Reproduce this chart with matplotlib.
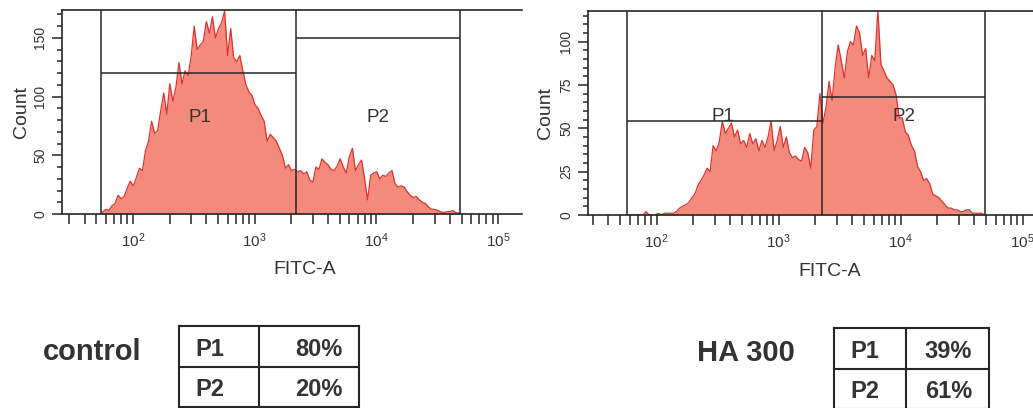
import numpy as np
import matplotlib
matplotlib.use("Agg")
import matplotlib.pyplot as plt
from matplotlib.ticker import LogLocator, LogFormatterMathtext, MultipleLocator, NullFormatter

plt.rcParams['font.family'] = ['Liberation Sans', 'DejaVu Sans']
plt.rcParams['mathtext.fontset'] = 'custom'
plt.rcParams['mathtext.rm'] = 'Liberation Sans'
plt.rcParams['mathtext.it'] = 'Liberation Sans'

# ---------------- data ----------------
BIN_WIDTH_LOG = 0.025
control_start_log = 1.74
ha300_start_log = 1.75

control_counts = [
    2, 4, 3, 7, 9, 16, 13, 15, 22, 28, 24, 31, 39, 37, 54, 62, 79, 69, 71, 88,
    103, 85, 111, 96, 108, 129, 111, 122, 118, 134, 160, 140, 144, 147, 164, 154, 168, 150, 158, 163,
    173, 135, 158, 133, 130, 135, 122, 110, 104, 101, 93, 90, 84, 79, 62, 68, 65, 62, 56, 50,
    39, 42, 37, 38, 36, 37, 34, 36, 29, 27, 40, 38, 47, 44, 42, 38, 37, 41, 47, 40,
    35, 49, 56, 37, 42, 46, 30, 12, 33, 35, 36, 30, 33, 32, 35, 37, 26, 23, 24, 23,
    19, 16, 14, 15, 12, 10, 9, 6, 4, 4, 3, 2, 1, 2, 2, 3, 1, 1]

ha300_counts = [
    0, 0, 0, 0, 0, 0, 2, 0, 0, 0, 1, 0, 1, 1, 1, 1, 2, 4, 5, 6,
    7, 10, 12, 17, 20, 23, 27, 25, 40, 37, 42, 54, 47, 50, 53, 45, 49, 41, 43, 39,
    47, 41, 44, 37, 43, 39, 45, 54, 37, 43, 51, 39, 45, 36, 33, 34, 32, 31, 39, 36,
    27, 49, 51, 70, 53, 62, 77, 66, 85, 98, 89, 79, 94, 100, 98, 109, 105, 92, 96, 79,
    92, 89, 118, 87, 83, 79, 77, 75, 69, 56, 56, 48, 46, 40, 37, 28, 25, 20, 21, 18,
    12, 11, 10, 8, 6, 4, 4, 3, 3, 2, 2, 3, 3, 1, 1, 1, 1, 0]

# gates: name -> (low, high, level)
control_gates = {"P1": (54.6, 2184, 120), "P2": (2184, 48600, 150)}
ha300_gates = {"P1": (56.8, 2250, 54), "P2": (2250, 49300, 68)}

sample_names = ["control", "HA 300"]
table_rows = ["P1", "P2"]
control_pct = ["80%", "20%"]
ha300_pct = ["39%", "61%"]

x_label = "FITC-A"
y_label = "Count"

# ---------------- style ----------------
W, H = 1033, 408
fig = plt.figure(figsize=(W / 100, H / 100), dpi=100)
FILL = "#f38a7c"
EDGE = "#e0322e"
INK = "#262626"
TXT = "#333333"


def px_axes(x0, y_top, x1, y_bot):
    return fig.add_axes([x0 / W, 1 - y_bot / H, (x1 - x0) / W, (y_bot - y_top) / H])


def draw_hist(ax, counts, start_log, gates, xlim, ylim, ymajor, yminor, labels_pos):
    n = len(counts)
    centers = 10 ** (start_log + BIN_WIDTH_LOG * (np.arange(n) + 0.5))
    lo_edge = 10 ** start_log
    hi_edge = 10 ** (start_log + BIN_WIDTH_LOG * n)
    xs = np.concatenate([[lo_edge], centers, [hi_edge]])
    ys = np.concatenate([[0], counts, [0]])
    ax.fill_between(xs, ys, 0, color=FILL, lw=0, zorder=1)
    ax.plot(xs, ys, color=EDGE, lw=0.9, zorder=2)
    ax.set_xscale("log")
    ax.set_xlim(*xlim)
    ax.set_ylim(*ylim)
    bounds = sorted({g[0] for g in gates.values()} | {g[1] for g in gates.values()})
    for b in bounds:
        ax.axvline(b, color=INK, lw=1.1, zorder=3)
    for name, (lo, hi, lvl) in gates.items():
        ax.hlines(lvl, lo, hi, color=INK, lw=1.1, zorder=3)
    for name, (xp, yp) in labels_pos.items():
        ax.text(xp, yp, name, ha="center", va="center", fontsize=13.5, color=TXT, zorder=4)
    ax.xaxis.set_major_locator(LogLocator(base=10, numticks=10))
    ax.xaxis.set_major_formatter(LogFormatterMathtext())
    ax.xaxis.set_minor_locator(LogLocator(base=10, subs=np.arange(2, 10), numticks=20))
    ax.xaxis.set_minor_formatter(NullFormatter())
    ax.yaxis.set_major_locator(MultipleLocator(ymajor))
    ax.yaxis.set_minor_locator(MultipleLocator(yminor))
    ax.tick_params(axis="x", which="both", direction="out", length=7, width=1.1,
                   color=INK, labelsize=11, labelcolor=TXT, pad=5.5)
    ax.tick_params(axis="y", which="major", direction="out", length=7.5, width=1.1,
                   color=INK, labelsize=10, labelcolor=TXT, labelrotation=90, pad=3)
    ax.tick_params(axis="y", which="minor", direction="out", length=3.5, width=1.1, color=INK)
    for lab in ax.get_yticklabels():
        lab.set_va("center")
    for s in ["left", "bottom", "top"]:
        ax.spines[s].set_color(INK)
        ax.spines[s].set_linewidth(1.2)
    ax.spines["right"].set_visible(False)
    ax.set_xlabel(x_label, fontsize=14, color=TXT)
    ax.set_ylabel(y_label, fontsize=14, color=TXT)


ax1 = px_axes(62, 10, 522, 214)
draw_hist(ax1, control_counts, control_start_log, control_gates,
          (10 ** 1.4166, 10 ** 5.196), (0, 173.8), 50, 10,
          {"P1": (355, 82.6), "P2": (10300, 82.6)})
ax1.xaxis.set_label_coords((305 - 62) / 460, -(261 - 214) / 204)
ax1.yaxis.set_label_coords((30 - 62) / 460, 0.5)

ax2 = px_axes(588, 11, 1033, 215)
draw_hist(ax2, ha300_counts, ha300_start_log, ha300_gates,
          (10 ** 1.437, 10 ** 5.084), (0, 117.6), 25, 5,
          {"P1": (349, 56.5), "P2": (10640, 56.5)})
ax2.xaxis.set_label_coords((830 - 588) / 445, -(263 - 215) / 204)
ax2.yaxis.set_label_coords((554 - 588) / 445, 0.5)

# ---------------- tables (pixel overlay) ----------------
ov = fig.add_axes([0, 0, 1, 1], zorder=10)
ov.set_xlim(0, W)
ov.set_ylim(H, 0)
ov.axis("off")
ov.patch.set_alpha(0)


def draw_table(name, name_xy, x0, xmid, x1, y0, ymid, y1, pcts, row_left, pct_right):
    ov.text(name_xy[0], name_xy[1], name, ha="center", va="center", fontsize=21,
            fontweight="bold", color=TXT)
    lw = 1.5
    for y in (y0, ymid, y1):
        ov.plot([x0, x1], [y, y], color=INK, lw=lw, solid_capstyle="projecting")
    for x in (x0, xmid, x1):
        ov.plot([x, x], [y0, y1], color=INK, lw=lw, solid_capstyle="projecting")
    rows_c = [(y0 + ymid) / 2 + 3, (ymid + y1) / 2 + 3]
    for r, p, yc in zip(table_rows, pcts, rows_c):
        ov.text(row_left, yc, r, ha="left", va="center", fontsize=17, fontweight="bold", color=TXT)
        ov.text(pct_right, yc, p, ha="right", va="center", fontsize=17, fontweight="bold", color=TXT)


draw_table(sample_names[0], (92, 352), 179, 259, 359, 326, 367, 407, control_pct, 195, 342)
draw_table(sample_names[1], (746, 353), 834, 906, 989, 328, 369, 409, ha300_pct, 850, 972)

fig.savefig("out.png", dpi=100)
